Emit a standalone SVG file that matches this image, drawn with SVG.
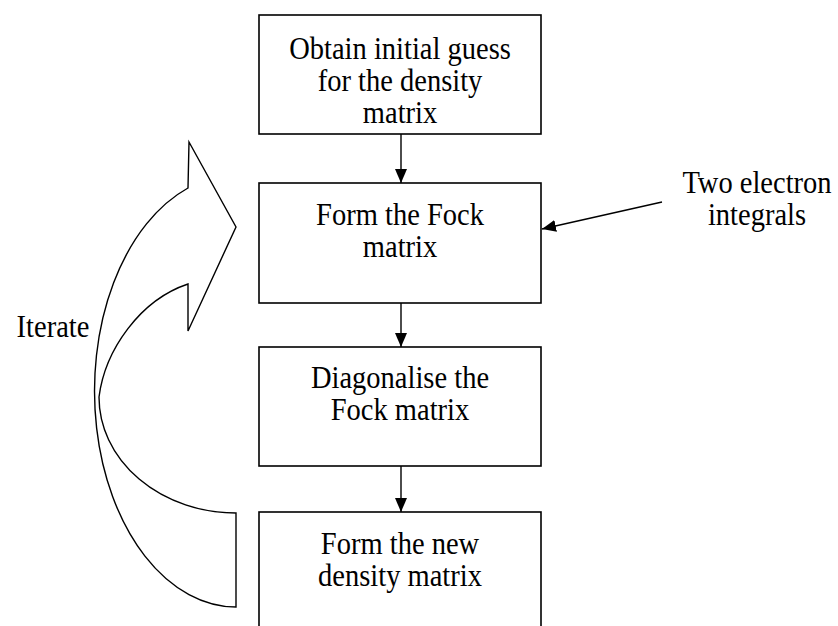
<svg xmlns="http://www.w3.org/2000/svg" width="838" height="626" viewBox="0 0 838 626">
<style>
.box{fill:#fff;stroke:#000;stroke-width:1.6}
.t{font-family:"Liberation Serif","Times New Roman",serif;font-size:31px;fill:#000;text-anchor:middle}
.c{stroke:#000;stroke-width:1.4;fill:none}
.sh{fill:#fff;stroke:#000;stroke-width:1.4;stroke-linejoin:miter}
</style>
<defs>
<marker id="ah" viewBox="0 0 14 12" refX="14" refY="6" markerWidth="14" markerHeight="12" markerUnits="userSpaceOnUse" orient="auto">
<path d="M0,0 L14,6 L0,12 Z" fill="#000"/>
</marker>
</defs>
<rect width="838" height="626" fill="#fff"/>
<g id="iterate-arrow">
<path class="sh" d="M236,607 A142,216 0 0 1 188,188 L189,142 L236,227 L188,331 L188,284 C140,300 105,350 99,397 A137,116 0 0 0 236,513 Z"/>
<text class="t" transform="translate(53,337) scale(0.92,1)">Iterate</text>
</g>
<g id="n1">
<rect class="box" x="259" y="15" width="282" height="119"/>
<text class="t" transform="translate(400,59) scale(0.92,1)">Obtain initial guess</text>
<text class="t" transform="translate(400,91) scale(0.92,1)">for the density</text>
<text class="t" transform="translate(400,123) scale(0.92,1)">matrix</text>
</g>
<g id="n2">
<rect class="box" x="259" y="183" width="282" height="120"/>
<text class="t" transform="translate(400,225) scale(0.92,1)">Form the Fock</text>
<text class="t" transform="translate(400,257) scale(0.92,1)">matrix</text>
</g>
<g id="n3">
<rect class="box" x="259" y="347" width="282" height="119"/>
<text class="t" transform="translate(400,388) scale(0.92,1)">Diagonalise the</text>
<text class="t" transform="translate(400,420) scale(0.92,1)">Fock matrix</text>
</g>
<g id="n4">
<rect class="box" x="259" y="512" width="282" height="130"/>
<text class="t" transform="translate(400,554) scale(0.92,1)">Form the new</text>
<text class="t" transform="translate(400,586) scale(0.92,1)">density matrix</text>
</g>
<g id="n5">
<text class="t" transform="translate(757,193) scale(0.92,1)">Two electron</text>
<text class="t" transform="translate(757,225) scale(0.92,1)">integrals</text>
</g>
<g id="connectors">
<line class="c" x1="401" y1="134" x2="401" y2="183" marker-end="url(#ah)"/>
<line class="c" x1="401" y1="303" x2="401" y2="347" marker-end="url(#ah)"/>
<line class="c" x1="401" y1="466" x2="401" y2="512" marker-end="url(#ah)"/>
<line class="c" x1="662" y1="202" x2="542" y2="229" marker-end="url(#ah)"/>
</g>
</svg>
